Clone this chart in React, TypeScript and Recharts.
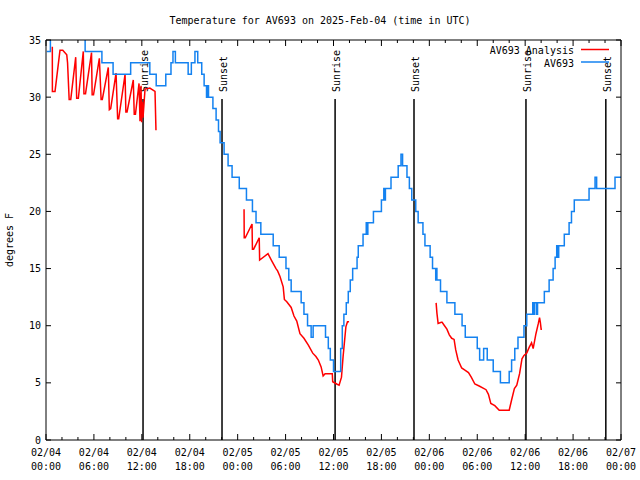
import { Legend, Line, LineChart, ReferenceLine, XAxis, YAxis } from "recharts";

// hours after 02/04 00:00 UTC, degrees F
const obsHours = [
  0.1, 0.55, 4.9, 7.0, 8.4, 10.6, 13.0, 13.8, 15.0, 15.65, 15.9, 16.2, 17.8, 18.2, 18.65, 19.0,
  19.5, 19.8, 20.1, 20.2, 20.35, 20.9, 21.3, 21.6, 21.8, 22.3, 22.8, 23.3, 24.2, 25.1, 25.85, 26.3,
  26.9, 28.45, 29.2, 30.05, 30.4, 30.7, 31.95, 32.3, 32.75, 33.2, 33.45, 35.0, 35.35, 35.6, 36.0,
  36.9, 37.1, 37.3, 37.6, 37.85, 38.1, 38.4, 38.95, 39.1, 39.7, 40.1, 40.2, 40.3, 41.0, 42.0, 42.3,
  42.4, 42.5, 43.2, 44.1, 44.45, 44.65, 45.2, 45.5, 45.8, 46.3, 46.6, 47.2, 47.45, 48.1, 48.4, 48.8,
  48.85, 48.95, 49.4, 50.2, 51.2, 52.1, 52.5, 54.0, 54.3, 54.8, 55.25, 56.0, 56.9, 58.0, 58.3, 58.7,
  59.1, 59.85, 60.2, 60.95, 61.1, 61.2, 61.45, 61.55, 62.4, 63.0, 63.5, 63.75, 63.95, 64.05, 64.2,
  64.9, 65.5, 65.8, 66.15, 68.0, 68.75, 68.95, 71.25, 72.0,
];
const obsTemps = [
  34, 36, 34, 33, 32, 33, 32, 31, 32, 33, 34, 33, 32, 33, 34, 33,
  32, 31, 30, 31, 30, 29, 28, 27, 26, 25, 24, 23, 22, 21, 20, 19,
  18, 17, 16, 15, 14, 13, 12, 11, 10, 9, 10, 9, 8, 7, 6,
  8, 10, 11, 12, 13, 14, 15, 16, 17, 18, 19, 18, 19, 20, 21, 22,
  21, 22, 23, 24, 25, 24, 23, 22, 21, 20, 19, 18, 17, 16, 15, 14,
  15, 14, 13, 12, 11, 10, 9, 8, 7, 8, 7, 6, 5, 6, 7, 8,
  9, 10, 11, 12, 11, 12, 11, 12, 13, 14, 15, 16, 17, 16, 17,
  18, 19, 20, 21, 22, 23, 22, 23, 23,
];

const run1Hours = [
  0.79, 0.8, 1.13, 1.75, 2.1, 2.6, 2.7, 2.9, 3.1, 3.72, 3.84, 4.05, 4.67, 4.75, 4.95, 5.7, 5.78,
  5.95, 6.68, 6.9, 7.05, 7.8, 7.93, 8.1, 8.77, 8.97, 9.1, 9.9, 10.0, 10.15, 10.93, 11.05, 11.2,
  11.65, 11.77, 11.9, 11.97, 12.05, 12.15, 12.4, 13.0, 13.65, 13.77,
];
const run1Temps = [
  34.4, 30.5, 30.5, 34.1, 34.1, 33.7, 33.0, 29.8, 29.8, 33.5, 29.9, 29.9, 34.0, 30.3, 30.3, 33.9, 30.2,
  30.2, 33.4, 29.8, 29.8, 32.6, 28.9, 29.0, 32.1, 28.1, 28.1, 32.0, 28.7, 28.7, 31.5, 28.5, 28.5,
  31.2, 27.9, 31.0, 27.8, 29.6, 28.2, 30.7, 30.8, 30.5, 27.1,
];
const run2Hours = [
  24.8, 24.82, 24.95, 25.8, 25.85, 26.0, 26.7, 26.75, 27.8, 28.25, 28.8, 29.0, 29.3, 29.7, 29.85,
  30.15, 30.7, 31.05, 31.4, 31.8, 32.3, 32.85, 33.4, 33.8, 34.1, 34.45, 34.7, 34.95, 35.85, 35.9,
  36.4, 36.7, 37.0, 37.2, 37.55, 37.75, 37.95,
];
const run2Temps = [
  20.2, 17.7, 17.7, 18.9, 16.7, 16.7, 17.7, 15.75, 16.3, 15.7, 15.0, 14.8, 14.3, 13.4, 12.3,
  12.1, 11.6, 10.85, 10.4, 9.3, 8.9, 8.3, 7.6, 7.3, 7.0, 6.4, 5.6, 5.8, 5.8, 5.1,
  4.9, 4.8, 5.5, 7.3, 9.9, 10.35, 10.35,
];
const run3Hours = [
  48.85, 48.95, 49.1, 49.5, 49.6, 49.9, 50.2, 50.5, 50.8, 51.1, 51.3, 51.6, 52.05, 52.5, 52.9,
  53.25, 53.7, 54.3, 55.1, 55.4, 55.7, 56.2, 56.75, 58.0, 58.3, 58.65, 58.95, 59.3, 59.6, 59.85,
  60.2, 60.5, 60.8, 61.0, 61.35, 61.65, 61.8, 61.9, 62.0, 62.1,
];
const run3Temps = [
  12.0, 11.1, 10.2, 10.3, 10.3, 10.0, 9.7, 9.2, 8.9, 8.8, 7.9, 7.0, 6.3, 6.1, 5.9,
  5.5, 4.9, 4.7, 4.4, 4.0, 3.2, 3.0, 2.6, 2.6, 3.5, 4.5, 4.8, 5.8, 7.1, 7.4,
  7.6, 8.1, 8.5, 8.0, 9.3, 10.2, 10.7, 10.3, 9.7, 9.7,
];

const sunHours = [12.15, 22.04, 36.2, 46.08, 60.1, 70.1];
const sunNames = ["Sunrise", "Sunset", "Sunrise", "Sunset", "Sunrise", "Sunset"];
const SUN_LINE_TOP = 29.83;

const xTicks = Array.from({ length: 37 }, (_, i) => i * 2);
const yTicks = [0, 5, 10, 15, 20, 25, 30, 35];

const FONT = "'DejaVu Sans Mono', monospace";
const RED = "#ff0000";
const BLUE = "#1482f0";

const zip = (hs: number[], ts: number[]) => hs.map((h, i) => ({ h, t: ts[i] }));
const obsData = zip(obsHours, obsTemps);
const run1 = zip(run1Hours, run1Temps);
const run2 = zip(run2Hours, run2Temps);
const run3 = zip(run3Hours, run3Temps);

const pad = (n: number) => String(n).padStart(2, "0");

function BottomTick({ x, y, payload }: any) {
  const h = payload.value;
  const major = h % 6 === 0;
  return (
    <g>
      <line x1={x} y1={y} x2={x} y2={y - (major ? 6 : 3)} stroke="#000" />
      {major && (
        <text x={x} y={y + 16} textAnchor="middle" fontFamily={FONT} fontSize={10} fill="#000">
          {`02/${pad(4 + Math.floor(h / 24))}`}
        </text>
      )}
      {major && (
        <text x={x} y={y + 30} textAnchor="middle" fontFamily={FONT} fontSize={10} fill="#000">
          {`${pad(h % 24)}:00`}
        </text>
      )}
    </g>
  );
}

function TopTick({ x, y, payload }: any) {
  const major = payload.value % 6 === 0;
  return <line x1={x} y1={y} x2={x} y2={y + (major ? 6 : 3)} stroke="#000" />;
}

function LeftTick({ x, y, payload }: any) {
  return (
    <g>
      <line x1={x} y1={y} x2={x + 5} y2={y} stroke="#000" />
      <text x={x - 5} y={y} dy="0.35em" textAnchor="end" fontFamily={FONT} fontSize={10} fill="#000">
        {payload.value}
      </text>
    </g>
  );
}

function RightTick({ x, y }: any) {
  return <line x1={x} y1={y} x2={x - 5} y2={y} stroke="#000" />;
}

function SunLabel({ viewBox, name }: any) {
  const x = viewBox.x + 5;
  const y = viewBox.y - 7;
  return (
    <text
      x={x}
      y={y}
      transform={`rotate(-90 ${x} ${y})`}
      fontFamily={FONT}
      fontSize={10}
      fill="#000"
    >
      {name}
    </text>
  );
}

function LegendBox() {
  return (
    <svg width={135} height={30}>
      <text x={94} y={12} textAnchor="end" fontFamily={FONT} fontSize={10}>
        AV693 Analysis
      </text>
      <line x1={101} y1={7.5} x2={129} y2={7.5} stroke={RED} strokeWidth={1.5} />
      <text x={94} y={25} textAnchor="end" fontFamily={FONT} fontSize={10}>
        AV693
      </text>
      <line x1={101} y1={20} x2={129} y2={20} stroke={BLUE} strokeWidth={1.5} />
    </svg>
  );
}

export default function App() {
  return (
    <div style={{ position: "absolute", left: 0, top: 0, width: 640, height: 480, background: "#fff" }}>
      <div
        style={{
          position: "absolute",
          top: 15,
          left: 0,
          width: 640,
          textAlign: "center",
          fontFamily: FONT,
          fontSize: 10,
          lineHeight: "12px",
        }}
      >
        Temperature for AV693 on 2025-Feb-04 (time in UTC)
      </div>
      <div
        style={{
          position: "absolute",
          top: 234,
          left: -40,
          width: 100,
          textAlign: "center",
          fontFamily: FONT,
          fontSize: 10,
          lineHeight: "12px",
          transform: "rotate(-90deg)",
        }}
      >
        degrees F
      </div>
      <LineChart width={640} height={480} margin={{ top: 39, right: 18, bottom: 39, left: 45 }}>
        <XAxis
          dataKey="h"
          type="number"
          domain={[0, 72]}
          ticks={xTicks}
          interval={0}
          height={1}
          tickSize={0}
          tickMargin={0}
          tick={BottomTick}
          axisLine={{ stroke: "#000" }}
          allowDataOverflow
        />
        <XAxis
          xAxisId="top"
          orientation="top"
          dataKey="h"
          type="number"
          domain={[0, 72]}
          ticks={xTicks}
          interval={0}
          height={1}
          tickSize={0}
          tickMargin={0}
          tick={TopTick}
          axisLine={{ stroke: "#000" }}
          allowDataOverflow
        />
        <YAxis
          type="number"
          domain={[0, 35]}
          ticks={yTicks}
          interval={0}
          width={1}
          tickSize={0}
          tickMargin={0}
          tick={LeftTick}
          axisLine={{ stroke: "#000" }}
          allowDataOverflow
        />
        <YAxis
          yAxisId="right"
          orientation="right"
          type="number"
          domain={[0, 35]}
          ticks={yTicks}
          interval={0}
          width={1}
          tickSize={0}
          tickMargin={0}
          tick={RightTick}
          axisLine={{ stroke: "#000" }}
          allowDataOverflow
        />
        {sunHours.map((h, i) => (
          <ReferenceLine
            key={i}
            segment={[
              { x: h, y: 0 },
              { x: h, y: SUN_LINE_TOP },
            ]}
            stroke="#000"
            strokeWidth={1.5}
            label={<SunLabel name={sunNames[i]} />}
          />
        ))}
        <Legend
          layout="vertical"
          align="center"
          verticalAlign="middle"
          content={LegendBox}
          wrapperStyle={{ left: 480, top: 42, width: 135, height: 30 }}
        />
        {[run1, run2, run3].map((d, i) => (
          <Line
            key={i}
            data={d}
            dataKey="t"
            type="linear"
            stroke={RED}
            strokeWidth={1.5}
            dot={false}
            isAnimationActive={false}
          />
        ))}
        <Line
          data={obsData}
          dataKey="t"
          type="stepAfter"
          stroke={BLUE}
          strokeWidth={1.5}
          dot={false}
          isAnimationActive={false}
        />
      </LineChart>
    </div>
  );
}
